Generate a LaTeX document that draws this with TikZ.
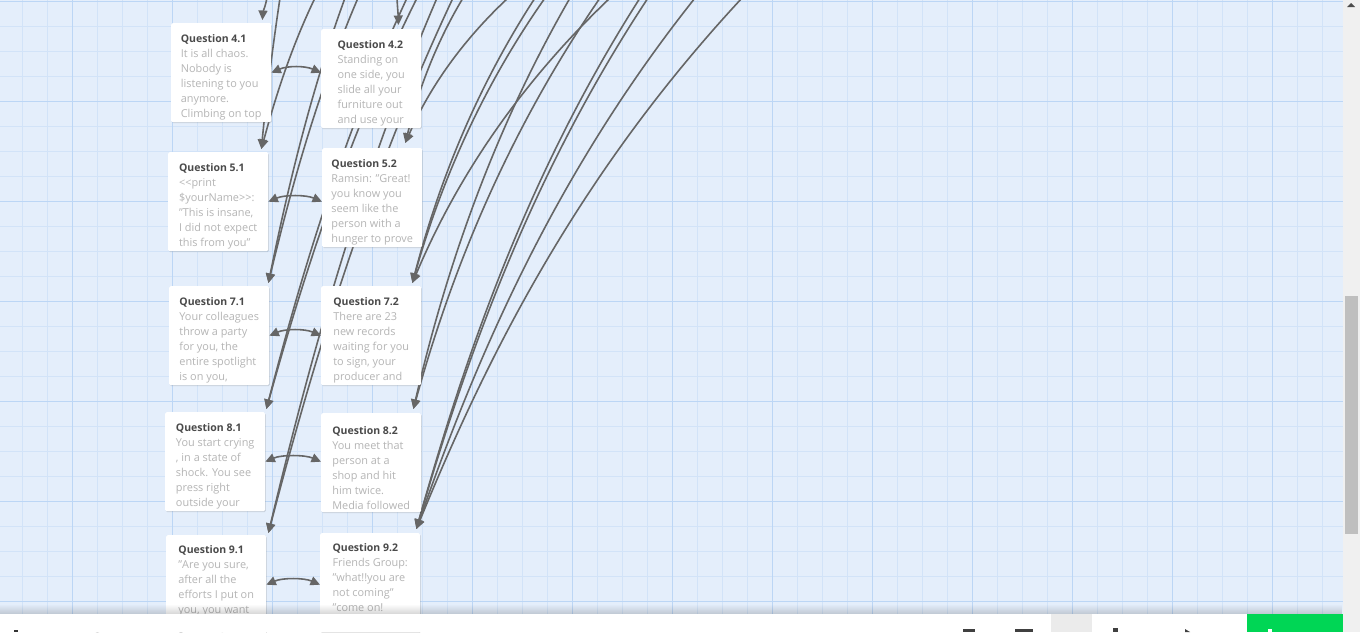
\documentclass[tikz,border=0pt]{standalone}
\usepackage{fontspec}
\setmainfont{Open Sans}
\usetikzlibrary{arrows.meta,shadows,calc,fadings}
\definecolor{bg}{HTML}{E4EEFB}
\definecolor{gridminor}{HTML}{D2E3F8}
\definecolor{gridmajor}{HTML}{BCD6F5}
\definecolor{linkc}{HTML}{666666}
\definecolor{titlec}{HTML}{4A4A4A}
\definecolor{bodyc}{HTML}{B5B5B5}
\definecolor{greenbtn}{HTML}{00D655}
\tikzset{
  passage/.style={fill=white, rounded corners=1.5pt, minimum width=100pt, minimum height=99pt,
    anchor=north west, inner xsep=9pt, inner ysep=0pt, align=left, text=bodyc,
    font=\fontsize{10.9}{15}\selectfont,
    drop shadow={shadow xshift=0.6pt, shadow yshift=-1pt, opacity=0.12, fill=black}},
  ghost/.style={minimum width=100pt, minimum height=99pt, anchor=north west, inner sep=0pt},
  link/.style={draw=linkc, line width=1.6pt, -{Triangle[length=9.5pt,width=9pt]}},
  dlink/.style={draw=linkc, line width=1.6pt, {Triangle[length=9.5pt,width=9pt]}-{Triangle[length=9.5pt,width=9pt]}},
}
\newcommand\ptitle[1]{\rule{0pt}{18pt}{\color{titlec}\bfseries\fontsize{10.5}{15}\selectfont #1}}
\newcommand\twlink[4]{\draw[link] let \p1=(#1), \p2=(#2) in (\p1) .. controls ({\x1+#3*(\x2-\x1)}, {\y1+0.33*(\y2-\y1)}) and ({\x2+#4*(\x1-\x2)}, {\y2+0.33*(\y1-\y2)}) .. (\p2);}
\begin{document}
\begin{tikzpicture}[x=1pt,y=-1pt]
\useasboundingbox (0,0) rectangle (1360,632);
% canvas
\fill[bg] (0,0) rectangle (1343,614);
\foreach \x in {22,47,...,1342} \draw[gridminor,line width=0.8pt] (\x,0) -- (\x,614);
\foreach \y in {1,26,...,614} \draw[gridminor,line width=0.8pt] (0,\y) -- (1343,\y);
\foreach \x in {72,172,...,1342} \draw[gridmajor,line width=1pt] (\x,0) -- (\x,614);
\foreach \y in {1,101,...,614} \draw[gridmajor,line width=1pt] (0,\y) -- (1343,\y);

% passage frames (for link end points)
\path (171,23) node[ghost] (q41) {}
      (321,29) node[ghost] (q42) {}
      (168,152) node[ghost] (q51) {}
      (322,148) node[ghost] (q52) {}
      (169,286) node[ghost] (q71) {}
      (321,286) node[ghost] (q72) {}
      (165,412) node[ghost] (q81) {}
      (321,413) node[ghost] (q82) {}
      (166,535) node[ghost] (q91) {}
      (320,533) node[ghost] (q92) {};

\coordinate (t41) at ($(q41.north east)+(-9,-3)$);
\coordinate (t42) at ($(q42.north east)+(-23,-4)$);
\coordinate (t51) at ($(q51.north east)+(-7,-3)$);
\coordinate (t52) at ($(q52.north east)+(-17,-5)$);
\coordinate (t71) at ($(q71.north east)+(-1,-3)$);
\coordinate (t72) at ($(q72.north east)+(-9,-3)$);
\coordinate (t81) at ($(q81.north east)+(1,-3)$);
\coordinate (t82) at ($(q82.north east)+(-8,-4)$);
\coordinate (t91) at ($(q91.north east)+(2,-2)$);
\coordinate (t92) at ($(q92.north east)+(-4,-4)$);

\foreach \n/\x in {s1/267,s2/280,s3/315,s4/345,s5/358,s6/397,s7/407,s8/417,s9/437,s10/453,
  s11/463,s12/508,s13/535,s14/545,s15/570,s16/600,s17/610,s18/640,s19/648,s20/695,s21/742}
  \coordinate (\n) at (\x,-2);

\twlink{s1}{t41}{0.3}{0.1}
\twlink{s2}{t51}{0.4}{0.25}
\twlink{s3}{t51}{0.45}{0.25}
\twlink{s4}{t71}{0.45}{0.25}
\twlink{s5}{t71}{0.45}{0.25}
\twlink{s6}{t42}{0.3}{0.1}
\twlink{s7}{t81}{0.45}{0.25}
\twlink{s8}{t81}{0.45}{0.25}
\twlink{s9}{t91}{0.45}{0.25}
\twlink{s10}{t91}{0.45}{0.25}
\twlink{s11}{t52}{0.5}{0.2}
\twlink{s12}{t52}{0.5}{0.2}
\twlink{s13}{t72}{0.5}{0.2}
\twlink{s14}{t72}{0.5}{0.2}
\twlink{s15}{t82}{0.5}{0.2}
\twlink{s16}{t82}{0.5}{0.2}
\twlink{s17}{t72}{0.5}{0.2}
\twlink{s18}{t92}{0.5}{0.22}
\twlink{s19}{t92}{0.5}{0.22}
\twlink{s20}{t92}{0.5}{0.22}
\twlink{s21}{t92}{0.5}{0.22}

% passages
\node[passage] (p41) at (q41.north west) {\ptitle{Question 4.1}\\It is all chaos.\\Nobody is\\listening to you\\anymore.\\Climbing on top};
\node[passage] (p42) at (q42.north west) {\ptitle{Question 4.2}\\Standing on\\one side, you\\slide all your\\furniture out\\and use your};
\node[passage] (p51) at (q51.north west) {\ptitle{Question 5.1}\\{<}{<}print\\\$yourName{>}{>}:\\"This is insane,\\I did not expect\\this from you"};
\node[passage] (p52) at (q52.north west) {\ptitle{Question 5.2}\\Ramsin: "Great!\\you know you\\seem like the\\person with a\\hunger to prove};
\node[passage] (p71) at (q71.north west) {\ptitle{Question 7.1}\\Your colleagues\\throw a party\\for you, the\\entire spotlight\\is on you,};
\node[passage] (p72) at (q72.north west) {\ptitle{Question 7.2}\\There are 23\\new records\\waiting for you\\to sign, your\\producer and};
\node[passage] (p81) at (q81.north west) {\ptitle{Question 8.1}\\You start crying\\, in a state of\\shock. You see\\press right\\outside your};
\node[passage] (p82) at (q82.north west) {\ptitle{Question 8.2}\\You meet that\\person at a\\shop and hit\\him twice.\\Media followed};
\node[passage] (p91) at (q91.north west) {\ptitle{Question 9.1}\\"Are you sure,\\after all the\\efforts I put on\\you, you want\\\strut};
\node[passage] (p92) at (q92.north west) {\ptitle{Question 9.2}\\Friends Group:\\"what!!you are\\not coming"\\"come on!\\\strut};

\draw[dlink] (p41.east) .. controls +(16,-7) and +(-16,-7) .. (p42.west |- p41.east);
\draw[dlink] (p51.east) .. controls +(16,-7) and +(-16,-7) .. (p52.west |- p51.east);
\draw[dlink] (p71.east) .. controls +(16,-7) and +(-16,-7) .. (p72.west |- p71.east);
\draw[dlink] (p81.east) .. controls +(16,-7) and +(-16,-7) .. (p82.west |- p81.east);
\draw[dlink] (p91.east) .. controls +(16,-7) and +(-16,-7) .. (p92.west |- p91.east);

% bottom bar
\fill[black,opacity=0.16,path fading=north] (0,604) rectangle (1343,614);
\fill[white] (0,614) rectangle (1343,632);
\node[anchor=base west, inner sep=0pt, text=black!80, font=\fontsize{21}{21}\selectfont] (title) at (44,648) {THE GUTTER OF FAME};
\fill[black!80] (14,630) rectangle (18,632);
\fill[black!75] (963,629) rectangle (975,632);
\fill[black!75] (1015,629) rectangle (1033,632);
\fill[black!8] (1051,614) rectangle (1092,632);
\fill[black!75] (1113,628) rectangle (1118,632);
\fill[black!75] (1185,629) -- (1190,632) -- (1185,632) -- cycle;
\fill[greenbtn] (1247,614) rectangle (1343,632);
\fill[white] (1268,629) rectangle (1272,632);
% scrollbar
\fill[black!6] (1343,0) rectangle (1360,632);
\fill[black!25] (1345,296) rectangle (1358,534);
\fill[black!70] (1351,3) -- (1355,7) -- (1347,7) -- cycle;
\end{tikzpicture}
\end{document}
